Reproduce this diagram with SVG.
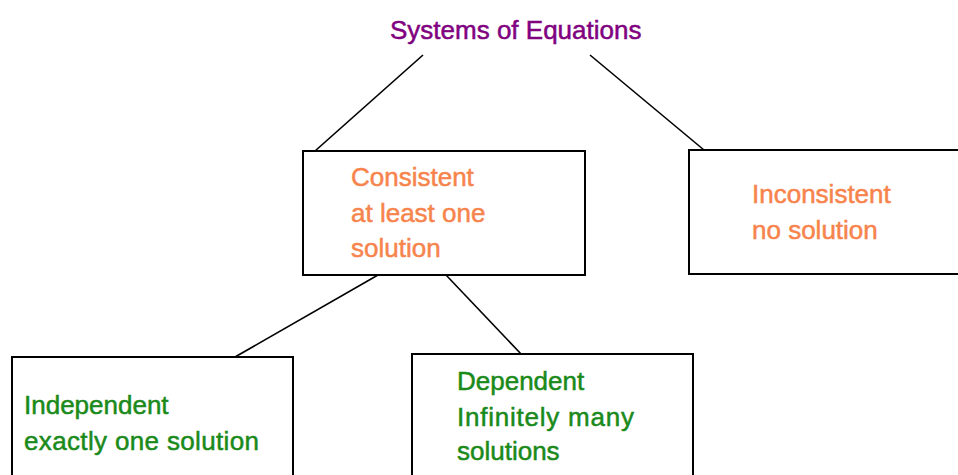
<svg xmlns="http://www.w3.org/2000/svg" width="958" height="475" viewBox="0 0 958 475">
<style>
text{font-family:"Liberation Sans",Arial,sans-serif;font-size:26px;stroke-width:0.5px}
.t{fill:#800080;stroke:#800080}
.o{fill:#F7844C;stroke:#F7844C}
.g{fill:#1A8A1A;stroke:#1A8A1A}
rect{fill:#fff;stroke:#000;stroke-width:2}
.c line{stroke:#000;stroke-width:1.6}
</style>
<rect x="0" y="0" width="958" height="475" style="stroke:none"/>
<g class="c" id="connectors">
<line x1="423" y1="55" x2="315" y2="151"/>
<line x1="590" y1="55" x2="704" y2="150"/>
<line x1="378" y1="275" x2="235" y2="357"/>
<line x1="446" y1="275" x2="522" y2="355"/>
</g>
<g id="title"><text class="t" x="390" y="39">Systems of Equations</text></g>
<g id="consistent">
<rect x="303" y="151" width="282" height="124"/>
<text class="o" x="351" y="186">Consistent</text>
<text class="o" x="351" y="222">at least one</text>
<text class="o" x="351" y="257">solution</text>
</g>
<g id="inconsistent">
<rect x="689" y="150" width="275" height="124"/>
<text class="o" x="752" y="203">Inconsistent</text>
<text class="o" x="752" y="239">no solution</text>
</g>
<g id="independent">
<rect x="12" y="357" width="281" height="130"/>
<text class="g" x="24" y="414">Independent</text>
<text class="g" x="24" y="450" textLength="235" lengthAdjust="spacing">exactly one solution</text>
</g>
<g id="dependent">
<rect x="412" y="354" width="281" height="130"/>
<text class="g" x="457" y="390">Dependent</text>
<text class="g" x="457" y="426" textLength="177" lengthAdjust="spacing">Infinitely many</text>
<text class="g" x="457" y="460">solutions</text>
</g>
</svg>
